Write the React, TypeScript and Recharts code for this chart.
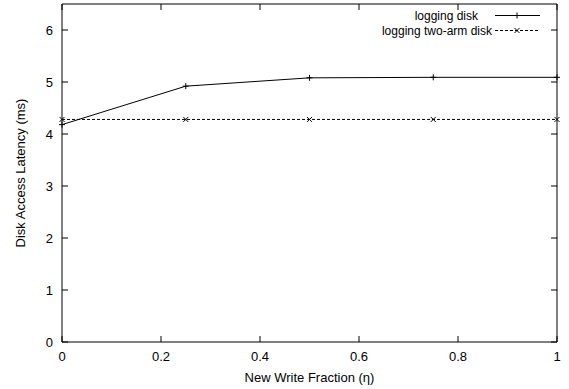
import { LineChart, Line, XAxis, YAxis } from "recharts"

const writeFractions = [0, 0.25, 0.5, 0.75, 1]
const loggingDisk = [4.18, 4.92, 5.08, 5.09, 5.09]
const loggingTwoArmDisk = [4.28, 4.28, 4.28, 4.28, 4.28]
const xTicks = [0, 0.2, 0.4, 0.6, 0.8, 1]
const yTicks = [0, 1, 2, 3, 4, 5, 6]
const xDomain = [0, 1]
const yDomain = [0, 6.5]
const seriesNames = ["logging disk", "logging two-arm disk"]

const data = writeFractions.map((x, i) => ({
  x,
  logging: loggingDisk[i],
  twoArm: loggingTwoArmDisk[i],
}))

const FONT = "'Liberation Sans', Arial, Helvetica, sans-serif"
const INK = "#000"
const tickFont = { fontSize: 13, fill: INK, fontFamily: FONT }
const hiddenTick = { fontSize: 1, fill: "transparent" }

function PlusDot({ cx, cy }: any) {
  if (cx == null || cy == null) return null
  return (
    <g stroke={INK} strokeWidth={1}>
      <line x1={cx - 3} y1={cy} x2={cx + 3} y2={cy} />
      <line x1={cx} y1={cy - 3} x2={cx} y2={cy + 3} />
    </g>
  )
}

function CrossDot({ cx, cy }: any) {
  if (cx == null || cy == null) return null
  return (
    <g stroke={INK} strokeWidth={1}>
      <line x1={cx - 2.5} y1={cy - 2.5} x2={cx + 2.5} y2={cy + 2.5} />
      <line x1={cx - 2.5} y1={cy + 2.5} x2={cx + 2.5} y2={cy - 2.5} />
    </g>
  )
}

function YTitle(props: any) {
  const vb = props.viewBox || { x: 0, y: 4, width: 62, height: 338 }
  const cx = vb.x + 20
  const cy = vb.y + vb.height / 2
  return (
    <text
      x={cx}
      y={cy}
      transform={`rotate(-90 ${cx} ${cy})`}
      textAnchor="middle"
      dominantBaseline="central"
      fontSize={13}
      fill={INK}
      fontFamily={FONT}
    >
      Disk Access Latency (ms)
    </text>
  )
}

const legendRows = [
  { name: seriesNames[0], dash: undefined, Dot: PlusDot, pad: 16 },
  { name: seriesNames[1], dash: "3 2", Dot: CrossDot, pad: 2 },
]

function LegendBox() {
  return (
    <div
      style={{
        position: "absolute",
        left: 300,
        top: 8,
        width: 244,
        fontFamily: FONT,
        fontSize: 12,
        color: INK,
      }}
    >
      {legendRows.map((r) => (
        <div
          key={r.name}
          style={{ display: "flex", justifyContent: "flex-end", alignItems: "center", height: 15 }}
        >
          <span style={{ marginRight: r.pad, whiteSpace: "nowrap" }}>{r.name}</span>
          <svg width={50} height={15}>
            <line x1={1} y1={7.5} x2={46} y2={7.5} stroke={INK} strokeDasharray={r.dash} />
            <r.Dot cx={23} cy={7.5} />
          </svg>
        </div>
      ))}
    </div>
  )
}

export default function App() {
  return (
    <div style={{ position: "absolute", left: 0, top: 0, width: 569, height: 389, background: "#fff", fontFamily: FONT }}>
      <LineChart width={569} height={389} data={data} margin={{ top: 4, right: 12, left: 0, bottom: 0 }}>
        <XAxis
          xAxisId="bottom"
          dataKey="x"
          type="number"
          domain={xDomain}
          ticks={xTicks}
          interval={0}
          height={47}
          tickSize={-6}
          tickMargin={16}
          tickLine={{ stroke: INK }}
          axisLine={{ stroke: INK }}
          tick={tickFont}
          label={{ value: "New Write Fraction (η)", position: "insideBottom", offset: 7, fontSize: 13, fill: INK }}
        />
        {/* mirrored axes: no extra space, ticks point inward, closing the box */}
        <XAxis
          xAxisId="top"
          orientation="top"
          mirror
          dataKey="x"
          type="number"
          domain={xDomain}
          ticks={xTicks}
          interval={0}
          height={20}
          tickSize={6}
          tick={hiddenTick}
          tickLine={{ stroke: INK }}
          axisLine={{ stroke: INK }}
        />
        <YAxis
          yAxisId="left"
          type="number"
          domain={yDomain}
          ticks={yTicks}
          interval={0}
          width={62}
          tickSize={-6}
          tickMargin={15}
          tickLine={{ stroke: INK }}
          axisLine={{ stroke: INK }}
          tick={tickFont}
          label={{ content: (p: any) => <YTitle {...p} /> }}
        />
        <YAxis
          yAxisId="right"
          orientation="right"
          mirror
          type="number"
          domain={yDomain}
          ticks={yTicks}
          interval={0}
          width={20}
          tickSize={6}
          tick={hiddenTick}
          tickLine={{ stroke: INK }}
          axisLine={{ stroke: INK }}
        />
        <Line
          xAxisId="top"
          yAxisId="right"
          dataKey="twoArm"
          stroke="none"
          dot={false}
          activeDot={false}
          legendType="none"
          isAnimationActive={false}
        />
        <Line
          xAxisId="bottom"
          yAxisId="left"
          dataKey="logging"
          name={seriesNames[0]}
          stroke={INK}
          strokeWidth={1}
          dot={(p: any) => <PlusDot key={`p${p.index}`} {...p} />}
          activeDot={false}
          isAnimationActive={false}
        />
        <Line
          xAxisId="bottom"
          yAxisId="left"
          dataKey="twoArm"
          name={seriesNames[1]}
          stroke={INK}
          strokeWidth={1}
          strokeDasharray="3 2"
          dot={(p: any) => <CrossDot key={`c${p.index}`} {...p} />}
          activeDot={false}
          isAnimationActive={false}
        />
      </LineChart>
      <LegendBox />
    </div>
  )
}
